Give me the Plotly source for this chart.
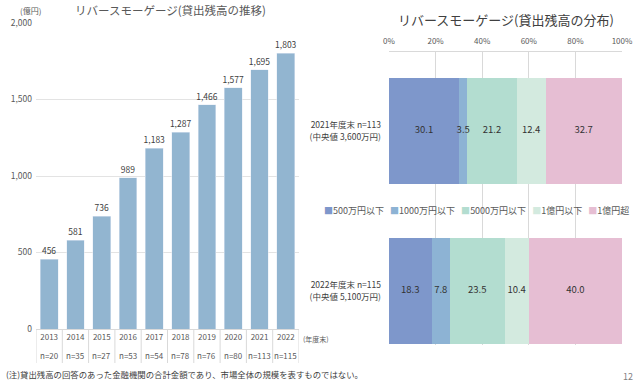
import plotly.graph_objects as go

# ---- data ----
years = ['2013', '2014', '2015', '2016', '2017', '2018', '2019', '2020', '2021', '2022']
balances = [456, 581, 736, 989, 1183, 1287, 1466, 1577, 1695, 1803]
n_counts = [20, 35, 27, 53, 54, 78, 76, 80, 113, 115]

dist_categories = ['2021年度末 n=113<br>(中央値 3,600万円)', '2022年度末 n=115<br>(中央値 5,100万円)']
series_names = ['500万円以下', '1000万円以下', '5000万円以下', '1億円以下', '1億円超']
series_values = {
    '500万円以下': [30.1, 18.3],
    '1000万円以下': [3.5, 7.8],
    '5000万円以下': [21.2, 23.5],
    '1億円以下': [12.4, 10.4],
    '1億円超': [32.7, 40.0],
}
series_colors = ['#7E97CB', '#8DB3D4', '#B3DDD0', '#D3EADF', '#E6BED3']
pct_ticks = [0, 20, 40, 60, 80, 100]
balance_ticks = [0, 500, 1000, 1500, 2000]

W, H = 640, 386
FONT = 'Noto Sans CJK JP'


def px(x):
    return x / W


def py(y):
    return 1 - y / H


idx = list(range(len(years)))

fig = go.Figure()

# left bar chart
fig.add_trace(go.Bar(
    x=idx, y=balances, marker_color='#92B5D0', width=0.68,
    text=balances, texttemplate='%{y:,}', textposition='outside',
    textfont=dict(size=8.5, color='#404040', family=FONT),
    constraintext='none', cliponaxis=False, textangle=0,
    xaxis='x', yaxis='y', showlegend=False,
))

# right stacked bars
for name, color in zip(series_names, series_colors):
    vals = series_values[name]
    fig.add_trace(go.Bar(
        y=dist_categories, x=vals, orientation='h', name=name,
        marker_color=color, marker_line_width=0, width=0.66,
        textposition='none',
        xaxis='x2', yaxis='y2', showlegend=False,
    ))

# value labels on top of all segments
for ci, cat in enumerate(dist_categories):
    cum = 0.0
    mids, labels = [], []
    for name in series_names:
        v = series_values[name][ci]
        mids.append(cum + v / 2)
        labels.append(f'{v:.1f}')
        cum += v
    fig.add_trace(go.Scatter(
        x=mids, y=[cat] * len(mids), mode='text', text=labels,
        textfont=dict(size=9.5, color='#333333', family=FONT),
        xaxis='x2', yaxis='y2', showlegend=False, cliponaxis=False,
        hoverinfo='skip',
    ))

fig.update_layout(
    width=W, height=H,
    margin=dict(l=0, r=0, t=0, b=0, autoexpand=False),
    paper_bgcolor='white', plot_bgcolor='white',
    barmode='stack',
    font=dict(family=FONT, size=9, color='#595959'),
    xaxis=dict(
        domain=[px(36), px(299)], anchor='y', range=[-0.5, len(years) - 0.5],
        tickvals=idx, ticktext=years, automargin=False,
        showline=True, linecolor='#D9D9D9', linewidth=1,
        ticks='', tickfont=dict(size=8, color='#595959'),
        showgrid=False, zeroline=False,
    ),
    yaxis=dict(
        domain=[py(329), py(23)], anchor='x', range=[0, 2000],
        tickvals=balance_ticks, tickformat=',', automargin=False,
        gridcolor='#E3E3E3', zeroline=False, showline=False,
        tickfont=dict(size=8.5, color='#595959'), ticks='',
        ticklabelstandoff=3,
    ),
    xaxis2=dict(
        domain=[px(389), px(622)], anchor='y2', side='top', range=[0, 100],
        tickvals=pct_ticks, ticktext=[f'{v}%' for v in pct_ticks], automargin=False,
        gridcolor='#D9D9D9', showline=True, linecolor='#D9D9D9',
        zeroline=False, tickfont=dict(size=8, color='#595959'), ticks='',
        ticklabelstandoff=4,
    ),
    yaxis2=dict(
        domain=[py(345), py(52)], anchor='x2', type='category', automargin=False,
        range=[1.3375, -0.494], showgrid=False, ticks='',
        tickfont=dict(size=8.5, color='#404040'), ticklabelstandoff=7,
    ),
)

# table separators under the left x-axis
shapes = []
for i in range(len(years) + 1):
    shapes.append(dict(type='line', xref='x', yref='paper',
                       x0=i - 0.5, x1=i - 0.5, y0=py(329), y1=py(363),
                       line=dict(color='#D9D9D9', width=1)))
fig.update_layout(shapes=shapes)

annotations = []
for i, n in zip(idx, n_counts):
    annotations.append(dict(x=i, xref='x', y=py(355), yref='paper',
                            yanchor='middle', text=f'n={n}', showarrow=False,
                            font=dict(size=8, color='#595959')))


def ann(x, y, text, size, color, xanchor='center'):
    return dict(x=px(x), y=py(y), xref='paper', yref='paper', showarrow=False,
                xanchor=xanchor, yanchor='middle', text=text,
                font=dict(size=size, color=color))


annotations += [
    ann(170, 10, 'リバースモーゲージ(貸出残高の推移)', 11.5, '#595959'),
    ann(30, 11, '(億円)', 8, '#595959'),
    ann(301, 339, '(年度末)', 7, '#595959', 'left'),
    ann(4, 374, '(注)貸出残高の回答のあった金融機関の合計金額であり、市場全体の規模を表すものではない。', 8.4, '#404040', 'left'),
    ann(628, 376, '12', 9, '#7F7F7F'),
    ann(506, 20, 'リバースモーゲージ(貸出残高の分布)', 13, '#404040'),
]

legend_text = '   '.join(
    f'<span style="color:{c}">■</span>{n}' for n, c in zip(series_names, series_colors)
)
annotations.append(ann(322, 210, legend_text, 9, '#595959', 'left'))

fig.update_layout(annotations=annotations)

fig.write_html(
    'out.html',
    config={'displayModeBar': False},
    post_script="document.body.style.margin='0';document.body.style.padding='0';",
)
